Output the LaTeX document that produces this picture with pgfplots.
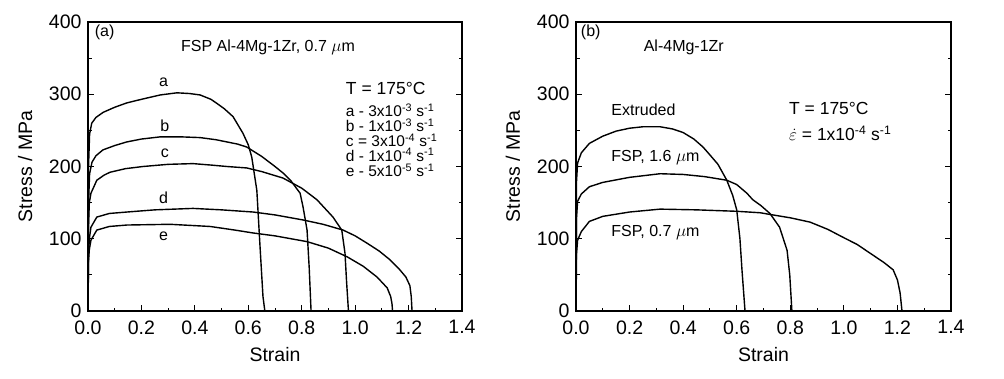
\documentclass[border=0pt]{standalone}
\usepackage{fontspec}
\setmainfont{Liberation Sans}
\usepackage{pgfplots}
\pgfplotsset{compat=1.18}
\newcommand{\fbig}{\fontsize{19.5}{22}\selectfont}
\newcommand{\fT}{\fontsize{17.5}{20}\selectfont}
\newcommand{\fmid}{\fontsize{16}{19}\selectfont}
\newcommand{\fsml}{\fontsize{15.5}{17}\selectfont}
\tikzset{
  rate/.style={font=\fsml, anchor=west, inner sep=0pt, text height=9pt, text depth=1pt},
  tline/.style={font=\fT, anchor=west, inner sep=0pt, text height=11pt, text depth=1pt},
}
\pgfplotsset{
  curve/.style={black, line width=1.4pt, mark=none},
  panel/.style={
    scale only axis, width=374pt, height=289pt, anchor=south west,
    xmin=0, xmax=1.4, ymin=0, ymax=400,
    xtick={0,0.2,...,1.4}, ytick={0,100,...,400},
    minor x tick num=1, minor y tick num=1,
    xtick pos=left, tick align=inside,
    major tick length=6pt, minor tick length=3.5pt,
    every tick/.style={black, line width=1pt},
    axis line style={line width=1.3pt},
    tick label style={font=\fbig},
    label style={font=\fbig},
    /pgf/number format/assume math mode=true,
    xticklabel style={yshift=-6pt, /pgf/number format/.cd, fixed, fixed zerofill, precision=1},
    yticklabel style={xshift=-3pt},
    xlabel={Strain}, ylabel={Stress / MPa},
    xlabel style={at={(axis description cs:0.5,-0.152)}, anchor=center},
    ylabel style={at={(axis description cs:-0.168,0.5)}, anchor=center},
    every node/.append style={inner sep=1pt},
    clip=true,
  },
}
\begin{document}
\begin{tikzpicture}
\useasboundingbox (0,0) rectangle (1004pt,378pt);
\begin{axis}[panel, at={(88pt,67pt)}]
\addplot[curve] coordinates {(0,0) (0.002,200) (0.006,245) (0.014,260) (0.03,268) (0.057,275) (0.1,282) (0.145,288) (0.2,293) (0.27,299) (0.333,302) (0.38,301) (0.42,299) (0.46,293) (0.48,288) (0.51,280) (0.543,269) (0.58,246) (0.6,230) (0.613,213) (0.632,167) (0.644,89) (0.655,20) (0.662,0)};
\addplot[curve] coordinates {(0,0) (0.002,150) (0.006,190) (0.015,206) (0.03,215) (0.056,223) (0.1,229) (0.145,234) (0.2,238) (0.27,241) (0.35,241) (0.42,240) (0.48,237) (0.52,234) (0.56,231) (0.594,227) (0.65,214) (0.7,200) (0.73,191) (0.76,180) (0.794,163) (0.805,144) (0.82,112) (0.828,60) (0.835,0)};
\addplot[curve] coordinates {(0,0) (0.002,120) (0.005,150) (0.011,163) (0.033,181) (0.06,188) (0.082,192) (0.14,197) (0.206,200) (0.3,203) (0.393,204) (0.46,202) (0.52,200) (0.594,198) (0.65,193) (0.73,184) (0.8,170) (0.857,154) (0.917,130) (0.95,112) (0.962,80) (0.968,40) (0.975,0)};
\addplot[curve] coordinates {(0,0) (0.002,80) (0.005,100) (0.011,116) (0.033,130) (0.08,135) (0.146,137) (0.25,140) (0.393,142) (0.5,140) (0.618,137) (0.7,133) (0.805,126) (0.88,120) (0.955,112) (1.0,104) (1.044,94) (1.09,83) (1.13,71) (1.165,58) (1.19,47) (1.205,35) (1.21,20) (1.213,0)};
\addplot[curve] coordinates {(0,0) (0.002,70) (0.005,85) (0.011,98) (0.033,112) (0.08,117) (0.146,119) (0.307,120) (0.457,117) (0.55,112) (0.618,108) (0.7,104) (0.82,96) (0.9,87) (0.97,75) (1.03,62) (1.082,47) (1.12,32) (1.133,20) (1.138,10) (1.14,0)};
\node[font=\fmid] at (axis cs:0.062,386) {(a)};
\node[font=\fmid] at (axis cs:0.674,365) {FSP Al-4Mg-1Zr, 0.7 $\mu$m};
\node[tline] at (axis cs:0.965,307) {T = 175°C};
\node[rate] at (axis cs:0.965,275) {a - 3x10\textsuperscript{-3} s\textsuperscript{-1}};
\node[rate] at (axis cs:0.965,254) {b - 1x10\textsuperscript{-3} s\textsuperscript{-1}};
\node[rate] at (axis cs:0.965,233) {c = 3x10\textsuperscript{-4} s\textsuperscript{-1}};
\node[rate] at (axis cs:0.965,213) {d - 1x10\textsuperscript{-4} s\textsuperscript{-1}};
\node[rate] at (axis cs:0.965,192) {e - 5x10\textsuperscript{-5} s\textsuperscript{-1}};
\node[font=\fmid] at (axis cs:0.283,316) {a};
\node[font=\fmid] at (axis cs:0.288,257) {b};
\node[font=\fmid] at (axis cs:0.288,218) {c};
\node[font=\fmid] at (axis cs:0.283,157) {d};
\node[font=\fmid] at (axis cs:0.283,103) {e};
\end{axis}
\begin{axis}[panel, at={(576pt,67pt)}, width=375pt]
\addplot[curve] coordinates {(0,0) (0.002,180) (0.006,205) (0.02,219) (0.05,232) (0.1,242) (0.15,249) (0.2,253) (0.25,255) (0.314,255) (0.36,252) (0.4,247) (0.44,238) (0.474,227) (0.5,216) (0.53,203) (0.563,181) (0.585,160) (0.6,140) (0.612,100) (0.62,55) (0.631,0)};
\addplot[curve] coordinates {(0,0) (0.002,130) (0.006,152) (0.02,162) (0.05,172) (0.1,178) (0.2,185) (0.314,190) (0.4,189) (0.48,186) (0.563,181) (0.6,175) (0.638,163) (0.66,154) (0.69,146) (0.724,135) (0.76,116) (0.788,84) (0.798,50) (0.806,0)};
\addplot[curve] coordinates {(0,0) (0.002,80) (0.006,98) (0.02,110) (0.05,124) (0.1,131) (0.2,137) (0.314,141) (0.45,140) (0.6,138) (0.687,136) (0.735,133) (0.8,129) (0.874,123) (0.94,113) (0.997,102) (1.05,92) (1.098,80) (1.15,67) (1.184,57) (1.2,43) (1.21,25) (1.217,0)};
\node[font=\fmid] at (axis cs:0.055,386) {(b)};
\node[font=\fmid, anchor=west] at (axis cs:0.24,365) {Al-4Mg-1Zr};
\node[tline] at (axis cs:0.795,279) {T = 175°C};
\node[tline] at (axis cs:0.795,243) {$\dot{\varepsilon}$ = 1x10\textsuperscript{-4} s\textsuperscript{-1}};
\node[font=\fmid, anchor=west] at (axis cs:0.119,278) {Extruded};
\node[font=\fmid, anchor=west] at (axis cs:0.119,212) {FSP, 1.6 $\mu$m};
\node[font=\fmid, anchor=west] at (axis cs:0.119,109) {FSP, 0.7 $\mu$m};
\end{axis}
\end{tikzpicture}
\end{document}
